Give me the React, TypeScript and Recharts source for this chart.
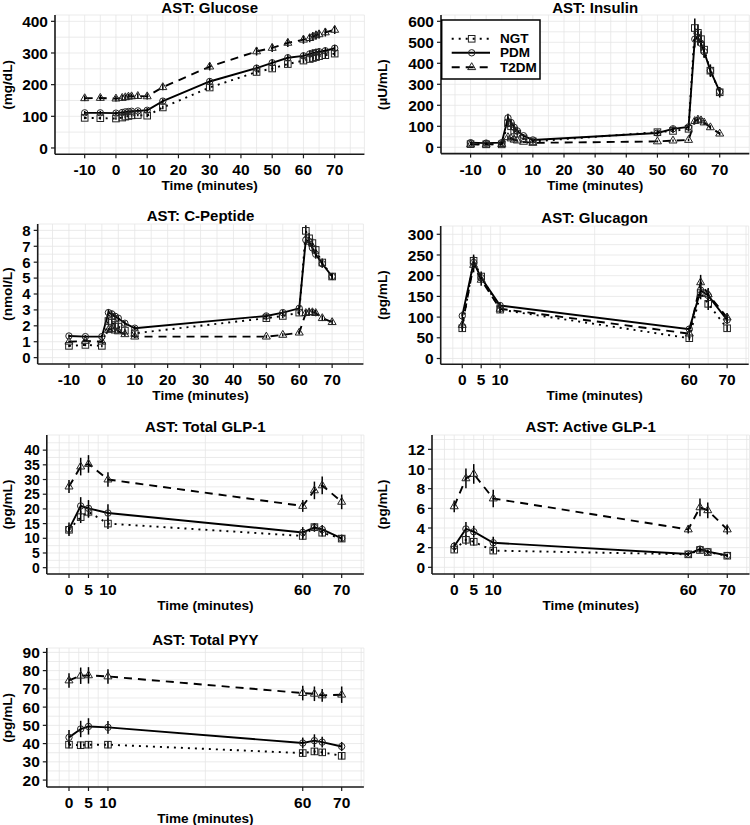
import React from 'react';
import { LineChart, Line, XAxis, YAxis, CartesianGrid, ErrorBar } from 'recharts';

const FONT = '"Liberation Sans", Arial, Helvetica, sans-serif';

// ---------- tick values ----------
const wideTimeTicks = [-10, 0, 10, 20, 30, 40, 50, 60, 70];
const wideTimeMinor = [-15, -5, 5, 15, 25, 35, 45, 55, 65, 75];
const narrowTimeTicks = [0, 5, 10, 60, 70];
const narrowTimeMinor = [-2.5, 2.5, 7.5, 35, 65, 75];

const glucoseTicks = [0, 100, 200, 300, 400];
const glucoseMinor = [50, 150, 250, 350];
const insulinTicks = [0, 100, 200, 300, 400, 500, 600];
const insulinMinor = [50, 150, 250, 350, 450, 550];
const cpepTicks = [0, 1, 2, 3, 4, 5, 6, 7, 8];
const cpepMinor = [0.5, 1.5, 2.5, 3.5, 4.5, 5.5, 6.5, 7.5];
const glucagonTicks = [0, 50, 100, 150, 200, 250, 300];
const glucagonMinor = [25, 75, 125, 175, 225, 275];
const tglpTicks = [0, 5, 10, 15, 20, 25, 30, 35, 40];
const tglpMinor = [2.5, 7.5, 12.5, 17.5, 22.5, 27.5, 32.5, 37.5, 42.5];
const aglpTicks = [0, 2, 4, 6, 8, 10, 12];
const aglpMinor = [1, 3, 5, 7, 9, 11, 13];
const pyyTicks = [20, 30, 40, 50, 60, 70, 80, 90];
const pyyMinor = [25, 35, 45, 55, 65, 75, 85];

// ---------- Glucose ----------
const glucoseTimes = [-10, -5, 0, 2, 3, 4, 5, 7, 10, 15, 30, 45, 50, 55, 60, 62, 63, 64, 65, 67, 70];
const glucoseNGT = [95, 94, 93, 96, 99, 101, 103, 104, 102, 128, 191, 240, 251, 265, 276, 281, 284, 287, 290, 293, 298];
const glucosePDM = [111, 111, 110, 112, 114, 115, 116, 117, 119, 148, 210, 252, 269, 285, 291, 297, 300, 302, 304, 307, 315];
const glucoseT2DM = [157, 158, 156, 158, 160, 162, 163, 164, 163, 192, 257, 305, 316, 332, 342, 347, 352, 356, 359, 365, 373];
const glucoseNGTErr = [4, 4, 4, 4, 4, 4, 4, 4, 5, 6, 8, 9, 9, 9, 9, 9, 9, 9, 9, 9, 9];
const glucosePDMErr = [6, 6, 6, 6, 6, 6, 6, 6, 7, 8, 10, 11, 11, 11, 11, 11, 11, 11, 11, 11, 11];
const glucoseT2DMErr = [9, 9, 9, 9, 9, 9, 9, 9, 10, 10, 12, 13, 13, 13, 13, 13, 13, 13, 13, 13, 13];

// ---------- Insulin ----------
const insulinTimes = [-10, -5, 0, 2, 3, 4, 5, 7, 10, 50, 55, 60, 62, 63, 64, 65, 67, 70];
const insulinNGT = [15, 14, 14, 115, 100, 80, 65, 42, 28, 72, 78, 88, 568, 545, 515, 465, 365, 262];
const insulinPDM = [22, 20, 22, 140, 118, 95, 78, 55, 35, 68, 88, 97, 515, 525, 495, 455, 365, 265];
const insulinT2DM = [14, 13, 15, 48, 42, 36, 32, 26, 21, 28, 32, 35, 125, 132, 128, 118, 95, 65];
const insulinNGTErr = [3, 3, 3, 18, 15, 12, 10, 7, 5, 10, 10, 12, 45, 40, 38, 35, 30, 25];
const insulinPDMErr = [4, 4, 4, 20, 15, 12, 10, 8, 5, 10, 12, 12, 40, 40, 35, 30, 25, 20];
const insulinT2DMErr = [3, 3, 3, 8, 7, 6, 5, 4, 3, 5, 5, 6, 15, 15, 14, 12, 10, 8];

// ---------- C-Peptide ----------
const cpepTimes = [-10, -5, 0, 2, 3, 4, 5, 7, 10, 50, 55, 60, 62, 63, 64, 65, 67, 70];
const cpepNGT = [0.74, 0.8, 0.74, 2.3, 2.2, 2.05, 1.95, 1.7, 1.53, 2.48, 2.62, 2.83, 7.97, 7.5, 7.2, 6.77, 5.98, 5.1];
const cpepPDM = [1.36, 1.32, 1.32, 2.83, 2.75, 2.6, 2.48, 2.16, 1.85, 2.62, 2.83, 3.1, 7.4, 7.3, 6.9, 6.5, 5.9, 5.1];
const cpepT2DM = [1.0, 1.05, 1.0, 1.74, 1.8, 1.7, 1.65, 1.47, 1.32, 1.32, 1.43, 1.57, 2.8, 2.85, 2.85, 2.8, 2.48, 2.23];
const cpepNGTErr = [0.08, 0.08, 0.08, 0.2, 0.2, 0.18, 0.16, 0.14, 0.12, 0.15, 0.15, 0.18, 0.35, 0.33, 0.3, 0.28, 0.25, 0.22];
const cpepPDMErr = [0.1, 0.1, 0.1, 0.22, 0.2, 0.2, 0.18, 0.16, 0.14, 0.16, 0.16, 0.2, 0.32, 0.3, 0.3, 0.28, 0.25, 0.22];
const cpepT2DMErr = [0.08, 0.08, 0.08, 0.14, 0.14, 0.13, 0.12, 0.11, 0.1, 0.1, 0.1, 0.12, 0.2, 0.2, 0.2, 0.2, 0.18, 0.16];

// ---------- Glucagon ----------
const hormoneTimes = [0, 3, 5, 10, 60, 63, 65, 70];
const glucagonNGT = [73, 236, 198, 118, 49, 158, 132, 73];
const glucagonPDM = [103, 232, 195, 128, 71, 165, 152, 93];
const glucagonT2DM = [81, 226, 190, 120, 60, 184, 155, 99];
const glucagonNGTErr = [8, 15, 12, 8, 6, 15, 15, 8];
const glucagonPDMErr = [10, 15, 12, 8, 8, 15, 15, 10];
const glucagonT2DMErr = [10, 18, 14, 10, 8, 18, 15, 10];

// ---------- Total GLP-1 ----------
const tglpNGT = [12.9, 17.2, 19.0, 15.0, 10.8, 13.8, 11.9, 9.9];
const tglpPDM = [13.1, 21.0, 20.2, 18.6, 12.0, 13.7, 13.0, 10.0];
const tglpT2DM = [27.6, 34.4, 35.3, 30.0, 21.0, 26.3, 28.0, 22.4];
const tglpNGTErr = [1.5, 2.0, 2.0, 1.8, 1.3, 1.3, 1.3, 1.0];
const tglpPDMErr = [2.3, 3.0, 2.8, 3.0, 1.8, 1.5, 1.5, 1.2];
const tglpT2DMErr = [2.2, 3.0, 3.0, 2.5, 2.0, 3.0, 3.0, 2.5];

// ---------- Active GLP-1 ----------
const aglpNGT = [1.8, 2.8, 2.6, 1.7, 1.32, 1.76, 1.55, 1.18];
const aglpPDM = [2.15, 3.9, 3.62, 2.5, 1.35, 1.85, 1.6, 1.2];
const aglpT2DM = [6.2, 9.05, 9.5, 7.0, 3.85, 6.1, 5.8, 3.85];
const aglpNGTErr = [0.3, 0.5, 0.4, 0.3, 0.15, 0.25, 0.2, 0.15];
const aglpPDMErr = [0.4, 0.7, 0.6, 0.6, 0.2, 0.3, 0.2, 0.2];
const aglpT2DMErr = [0.6, 1.0, 1.0, 0.9, 0.4, 0.9, 0.8, 0.5];

// ---------- Total PYY ----------
const pyyNGT = [39.4, 39.1, 39.4, 39.4, 34.8, 35.7, 35.2, 33.3];
const pyyPDM = [43.4, 48.0, 49.4, 48.9, 40.3, 41.6, 40.8, 38.4];
const pyyT2DM = [74.6, 77.2, 77.4, 76.8, 67.7, 67.3, 66.4, 66.8];
const pyyNGTErr = [2, 2, 2, 2, 2, 2, 1.8, 2];
const pyyPDMErr = [4, 4.5, 4.5, 3.5, 3, 3.5, 3, 2.5];
const pyyT2DMErr = [4, 4.5, 4.5, 4, 4, 4, 3.5, 4.5];

const groupNames = ['NGT', 'PDM', 'T2DM'];

function buildRows(times: number[], ngt: number[], pdm: number[], t2dm: number[], ngtE: number[], pdmE: number[], t2dmE: number[]) {
  return times.map((t, i) => ({
    t,
    ngt: ngt[i],
    pdm: pdm[i],
    t2dm: t2dm[i],
    ngtErr: ngtE[i],
    pdmErr: pdmE[i],
    t2dmErr: t2dmE[i],
  }));
}

const AXIS_COLOR = '#1a1a1a';
const MARK_COLOR = '#222';

function markerShape(shape: string, cx: number, cy: number, key?: string) {
  if (shape === 'square') {
    return <rect key={key} x={cx - 3.3} y={cy - 3.3} width={6.6} height={6.6} fill="none" stroke={MARK_COLOR} strokeWidth={1} />;
  }
  if (shape === 'circle') {
    return <circle key={key} cx={cx} cy={cy} r={3.2} fill="none" stroke={MARK_COLOR} strokeWidth={1} />;
  }
  return (
    <polygon
      key={key}
      points={`${cx},${cy - 4.5} ${cx - 4},${cy + 2.4} ${cx + 4},${cy + 2.4}`}
      fill="none"
      stroke={MARK_COLOR}
      strokeWidth={1}
    />
  );
}

const dotFn = (shape: string) => (p: any) => {
  const k = `${shape}-${p.index}`;
  if (p.cx == null || p.cy == null) return <g key={k} />;
  return markerShape(shape, p.cx, p.cy, k);
};

const yTickFn = (majors: number[], fs: number) => (p: any) => {
  const { x, y, payload } = p;
  if (!majors.includes(payload.value)) return <g />;
  return (
    <g>
      <line x1={x + 3} x2={x + 7} y1={y} y2={y} stroke={AXIS_COLOR} strokeWidth={1.2} />
      <text x={x} y={y} dy="0.36em" textAnchor="end" fontFamily={FONT} fontWeight="bold" fontSize={fs} fill="#000">
        {payload.value}
      </text>
    </g>
  );
};

const xTickFn = (majors: number[]) => (p: any) => {
  const { x, y, payload } = p;
  if (!majors.includes(payload.value)) return <g />;
  return (
    <g>
      <line x1={x} x2={x} y1={y - 10} y2={y - 6} stroke={AXIS_COLOR} strokeWidth={1.2} />
      <text x={x} y={y} dy="0.72em" textAnchor="middle" fontFamily={FONT} fontWeight="bold" fontSize={15.5} fill="#000">
        {payload.value}
      </text>
    </g>
  );
};

type PanelCfg = {
  title: string;
  yLabel: string;
  panelX: number;
  L: number;
  R: number;
  T: number;
  B: number;
  xDomain: [number, number];
  yDomain: [number, number];
  xMajor: number[];
  xMinor: number[];
  yMajor: number[];
  yMinor: number[];
  yFont: number;
  rows: any[];
};

const panels: PanelCfg[] = [
  {
    title: 'AST: Glucose', yLabel: '(mg/dL)', panelX: 0, L: 55, R: 364.4, T: 15.3, B: 154.6,
    xDomain: [-19.5, 79.5], yDomain: [-20, 420], xMajor: wideTimeTicks, xMinor: wideTimeMinor,
    yMajor: glucoseTicks, yMinor: glucoseMinor, yFont: 15.5,
    rows: buildRows(glucoseTimes, glucoseNGT, glucosePDM, glucoseT2DM, glucoseNGTErr, glucosePDMErr, glucoseT2DMErr),
  },
  {
    title: 'AST: Insulin', yLabel: '(\u00b5U/mL)', panelX: 375, L: 441, R: 749.3, T: 15.4, B: 154,
    xDomain: [-19.5, 79.5], yDomain: [-30, 630], xMajor: wideTimeTicks, xMinor: wideTimeMinor,
    yMajor: insulinTicks, yMinor: insulinMinor, yFont: 15.5,
    rows: buildRows(insulinTimes, insulinNGT, insulinPDM, insulinT2DM, insulinNGTErr, insulinPDMErr, insulinT2DMErr),
  },
  {
    title: 'AST: C-Peptide', yLabel: '(nmol/L)', panelX: 0, L: 37.7, R: 363.4, T: 224.1, B: 364.1,
    xDomain: [-19.5, 79.5], yDomain: [-0.4, 8.4], xMajor: wideTimeTicks, xMinor: wideTimeMinor,
    yMajor: cpepTicks, yMinor: cpepMinor, yFont: 15,
    rows: buildRows(cpepTimes, cpepNGT, cpepPDM, cpepT2DM, cpepNGTErr, cpepPDMErr, cpepT2DMErr),
  },
  {
    title: 'AST: Glucagon', yLabel: '(pg/mL)', panelX: 375, L: 440.7, R: 748.7, T: 226, B: 364.3,
    xDomain: [-5.7, 75.7], yDomain: [-14, 320], xMajor: narrowTimeTicks, xMinor: narrowTimeMinor,
    yMajor: glucagonTicks, yMinor: glucagonMinor, yFont: 15.5,
    rows: buildRows(hormoneTimes, glucagonNGT, glucagonPDM, glucagonT2DM, glucagonNGTErr, glucagonPDMErr, glucagonT2DMErr),
  },
  {
    title: 'AST: Total GLP-1', yLabel: '(pg/mL)', panelX: 0, L: 46.8, R: 363.9, T: 435, B: 574,
    xDomain: [-5.7, 75.7], yDomain: [-2.15, 45.15], xMajor: narrowTimeTicks, xMinor: narrowTimeMinor,
    yMajor: tglpTicks, yMinor: tglpMinor, yFont: 14,
    rows: buildRows(hormoneTimes, tglpNGT, tglpPDM, tglpT2DM, tglpNGTErr, tglpPDMErr, tglpT2DMErr),
  },
  {
    title: 'AST: Active GLP-1', yLabel: '(pg/mL)', panelX: 375, L: 432, R: 749.5, T: 435, B: 574,
    xDomain: [-5.7, 75.7], yDomain: [-0.68, 13.46], xMajor: narrowTimeTicks, xMinor: narrowTimeMinor,
    yMajor: aglpTicks, yMinor: aglpMinor, yFont: 15.5,
    rows: buildRows(hormoneTimes, aglpNGT, aglpPDM, aglpT2DM, aglpNGTErr, aglpPDMErr, aglpT2DMErr),
  },
  {
    title: 'AST: Total PYY', yLabel: '(pg/mL)', panelX: 0, L: 46.8, R: 363.9, T: 648.3, B: 787.3,
    xDomain: [-5.7, 75.7], yDomain: [16.2, 92.4], xMajor: narrowTimeTicks, xMinor: narrowTimeMinor,
    yMajor: pyyTicks, yMinor: pyyMinor, yFont: 15.5,
    rows: buildRows(hormoneTimes, pyyNGT, pyyPDM, pyyT2DM, pyyNGTErr, pyyPDMErr, pyyT2DMErr),
  },
];

const TOP_PAD = 10;
const X_AXIS_H = 34;
const LINE_W = 1.9;

const seriesStyles = [
  { key: 'ngt', err: 'ngtErr', dash: '2 5', shape: 'square' },
  { key: 'pdm', err: 'pdmErr', dash: undefined as string | undefined, shape: 'circle' },
  { key: 't2dm', err: 't2dmErr', dash: '8 6', shape: 'triangle' },
];

function Panel({ cfg }: { cfg: PanelCfg }) {
  const yAxisW = cfg.L - cfg.panelX;
  const width = cfg.R - cfg.panelX + 1;
  const height = cfg.B - cfg.T + TOP_PAD + X_AXIS_H;
  const xTicks = [...cfg.xMajor, ...cfg.xMinor].sort((a, b) => a - b);
  const yTicks = [...cfg.yMajor, ...cfg.yMinor].sort((a, b) => a - b);
  return (
    <div style={{ position: 'absolute', left: cfg.panelX, top: cfg.T - TOP_PAD, width, height }}>
      <LineChart width={width} height={height} data={cfg.rows} margin={{ top: TOP_PAD, right: 1, left: 0, bottom: 0 }}>
        <CartesianGrid stroke="#e6e6e6" strokeWidth={0.8} />
        <XAxis
          dataKey="t"
          type="number"
          domain={cfg.xDomain}
          allowDataOverflow
          ticks={xTicks}
          interval={0}
          tick={xTickFn(cfg.xMajor)}
          tickLine={false}
          tickSize={4}
          tickMargin={6}
          height={X_AXIS_H}
          axisLine={{ stroke: AXIS_COLOR, strokeWidth: 1.6 }}
        />
        <YAxis
          type="number"
          domain={cfg.yDomain}
          allowDataOverflow
          ticks={yTicks}
          interval={0}
          tick={yTickFn(cfg.yMajor, cfg.yFont)}
          tickLine={false}
          tickSize={4}
          tickMargin={3}
          width={yAxisW}
          axisLine={{ stroke: AXIS_COLOR, strokeWidth: 1.6 }}
        />
        {seriesStyles.map((s) => (
          <Line
            key={s.key}
            dataKey={s.key}
            type="linear"
            stroke="#000"
            strokeWidth={LINE_W}
            strokeDasharray={s.dash}
            dot={dotFn(s.shape)}
            activeDot={false}
            isAnimationActive={false}
          >
            <ErrorBar dataKey={s.err} width={0} stroke="#000" strokeWidth={1.5} direction="y" isAnimationActive={false} />
          </Line>
        ))}
      </LineChart>
    </div>
  );
}

function Labels() {
  return (
    <svg width={750} height={825} style={{ position: 'absolute', left: 0, top: 0 }}>
      {panels.map((p, i) => {
        const cx = (p.L + p.R) / 2;
        const cy = (p.T + p.B) / 2;
        const titleY = p.T - (p.T < 100 ? 7.5 : 8.5);
        return (
          <g key={i} fontFamily={FONT} fontWeight="bold" fill="#000">
            <text x={cx} y={titleY} textAnchor="middle" dominantBaseline="central" fontSize={15}>
              {p.title}
            </text>
            <text x={cx} y={p.B + 31} textAnchor="middle" dominantBaseline="central" fontSize={13.6}>
              Time (minutes)
            </text>
            <text
              x={p.panelX + 7.8}
              y={cy}
              textAnchor="middle"
              dominantBaseline="central"
              fontSize={13.6}
              transform={`rotate(-90 ${p.panelX + 7.8} ${cy})`}
            >
              {p.yLabel}
            </text>
          </g>
        );
      })}
    </svg>
  );
}

function LegendBox() {
  const rows = [38.3, 52.3, 66.7];
  const x1 = 451.7;
  const x2 = 490;
  const mx = 471.7;
  return (
    <svg width={102} height={64} style={{ position: 'absolute', left: 440, top: 17.5 }}>
      <g transform="translate(-440 -17.5)">
        <rect x={441.7} y={19.5} width={98.3} height={59} fill="#fff" stroke="#000" strokeWidth={1.5} />
        {seriesStyles.map((s, i) => (
          <g key={s.key}>
            <line x1={x1} x2={x2} y1={rows[i]} y2={rows[i]} stroke="#000" strokeWidth={LINE_W} strokeDasharray={s.dash} />
            {markerShape(s.shape, mx, rows[i])}
            <text x={500} y={rows[i]} dominantBaseline="central" fontFamily={FONT} fontWeight="bold" fontSize={13.5}>
              {groupNames[i]}
            </text>
          </g>
        ))}
      </g>
    </svg>
  );
}

export default function App() {
  return (
    <div style={{ position: 'absolute', left: 0, top: 0, width: 750, height: 825, overflow: 'hidden', background: '#fff' }}>
      <Labels />
      {panels.map((p, i) => (
        <Panel key={i} cfg={p} />
      ))}
      <LegendBox />
    </div>
  );
}
